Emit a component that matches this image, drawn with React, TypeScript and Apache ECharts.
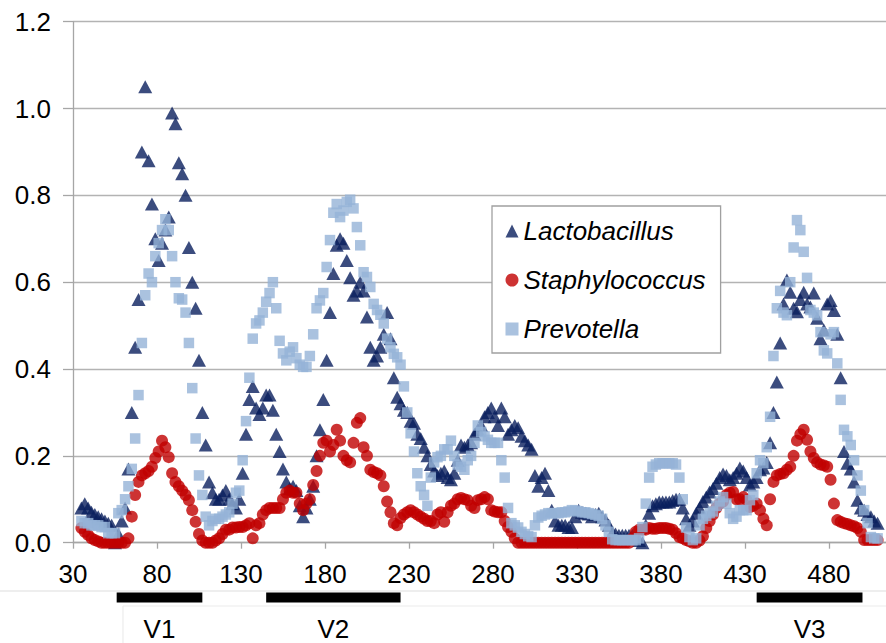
import React, { useEffect, useRef } from "react";
import * as echarts from "echarts";

// Sampling positions: every second position from 35 to 509
const firstPosition = 35;
const positionStep = 2;

const lactobacillus = [
  0.08, 0.09, 0.08, 0.07, 0.065, 0.06, 0.055, 0.05, 0.045, 0.04,
  0.0, 0.02, 0.05, 0.08, 0.17, 0.3, 0.45, 0.56, 0.9, 1.05,
  0.88, 0.78, 0.7, 0.65, 0.69, 0.72, 0.75, 0.99, 0.965, 0.875,
  0.85, 0.8, 0.68, 0.6, 0.54, 0.42, 0.3, 0.225, 0.14, 0.115,
  0.1,
  0.1, 0.11, 0.12, 0.1, 0.09, 0.08, 0.1, 0.16, 0.25, 0.33,
  0.36, 0.31, 0.295, 0.31, 0.34, 0.34, 0.305, 0.25, 0.21, 0.17,
  0.14, 0.125, 0.13, 0.12, 0.085, 0.06, 0.08, 0.1, 0.13, 0.2,
  0.26, 0.33, 0.42, 0.53, 0.62, 0.685, 0.7, 0.69, 0.65, 0.61,
  0.57, 0.58, 0.6, 0.58, 0.52, 0.45, 0.42, 0.43, 0.45, 0.48,
  0.53, 0.47, 0.38, 0.335, 0.32, 0.305, 0.3, 0.28,
  0.275, 0.25, 0.24, 0.22, 0.2, 0.18, 0.165, 0.155, 0.16, 0.165,
  0.15, 0.145, 0.16, 0.19, 0.225, 0.22, 0.225, 0.23, 0.25, 0.26,
  0.27, 0.29, 0.3, 0.31, 0.29, 0.27, 0.31, 0.29, 0.25, 0.26,
  0.27, 0.265, 0.245, 0.235, 0.225, 0.215, 0.155, 0.13, 0.15, 0.16,
  0.12, 0.075, 0.05, 0.04, 0.04, 0.04, 0.035, 0.035, 0.06, 0.075,
  0.07, 0.068, 0.066, 0.06, 0.065, 0.068, 0.06, 0.052, 0.04, 0.022,
  0.02, 0.017, 0.017, 0.017, 0.017, 0.017, 0.01, 0.005, 0.0, 0.04,
  0.068, 0.085, 0.09, 0.094, 0.094, 0.094, 0.094, 0.097, 0.1, 0.1,
  0.08, 0.055, 0.04, 0.05, 0.068, 0.08, 0.095, 0.105, 0.117, 0.125,
  0.137, 0.15, 0.158, 0.155, 0.145, 0.15, 0.16, 0.172, 0.165, 0.15,
  0.133, 0.14, 0.15, 0.168, 0.172, 0.185, 0.23, 0.3, 0.37, 0.46,
  0.55, 0.605, 0.577, 0.54, 0.532, 0.56, 0.577, 0.55, 0.543, 0.575,
  0.517, 0.47, 0.49, 0.55, 0.558, 0.535, 0.48, 0.38, 0.21, 0.183,
  0.17, 0.14, 0.098, 0.08, 0.075, 0.065, 0.06, 0.05, 0.045,
];

const staphylococcus = [
  0.034, 0.025, 0.018, 0.01, 0.006, 0.003, 0, 0, 0, 0,
  0, 0, 0, 0, 0.01, 0.06, 0.11, 0.14, 0.155, 0.16,
  0.165, 0.175, 0.195, 0.21, 0.235, 0.22, 0.197, 0.16, 0.14, 0.13,
  0.12, 0.11, 0.098, 0.075, 0.048, 0.02, 0.005, 0, 0, 0,
  0.005,
  0.01, 0.02, 0.03, 0.03, 0.035, 0.035, 0.036, 0.036, 0.04, 0.045,
  0.01, 0.04, 0.045, 0.065, 0.075, 0.08, 0.08, 0.08, 0.08, 0.1,
  0.115, 0.12, 0.115, 0.115, 0.09, 0.075, 0.09, 0.1, 0.133, 0.165,
  0.2, 0.23, 0.235, 0.21, 0.225, 0.26, 0.235, 0.2, 0.19, 0.185,
  0.23, 0.276, 0.287, 0.22, 0.2, 0.168, 0.163, 0.16, 0.155, 0.13,
  0.095, 0.07, 0.045, 0.04, 0.057, 0.065, 0.07, 0.075,
  0.07, 0.065, 0.06, 0.055, 0.05, 0.05, 0.045, 0.065, 0.07, 0.048,
  0.07, 0.085, 0.09, 0.1, 0.103, 0.1, 0.098, 0.085, 0.08, 0.098,
  0.1, 0.105, 0.1, 0.075, 0.072, 0.07, 0.07, 0.05, 0.036, 0.025,
  0.01, 0, 0, 0, 0, 0, 0, 0, 0, 0,
  0, 0, 0, 0, 0, 0, 0, 0, 0, 0,
  0, 0, 0, 0, 0, 0, 0, 0, 0, 0,
  0, 0, 0, 0, 0, 0.01, 0.025, 0.03, 0.03, 0.03,
  0.034, 0.032, 0.032, 0.034, 0.034, 0.034, 0.032, 0.03, 0.022, 0.013,
  0.01, 0.006, 0.003, 0, 0, 0.005, 0.015, 0.034, 0.05, 0.065,
  0.08, 0.09, 0.095, 0.11, 0.115, 0.117, 0.1, 0.1, 0.105, 0.098,
  0.082, 0.085, 0.09, 0.075, 0.055, 0.04, 0.1, 0.14, 0.155, 0.158,
  0.16, 0.168, 0.175, 0.2, 0.235, 0.25, 0.26, 0.237, 0.21, 0.195,
  0.185, 0.18, 0.178, 0.175, 0.145, 0.09, 0.052, 0.048, 0.045, 0.043,
  0.04, 0.038, 0.034, 0.025, 0.006, 0.006, 0.006, 0.006, 0.006,
];

const prevotella = [
  0.05, 0.045, 0.045, 0.04, 0.04, 0.04, 0.036, 0.036, 0.022, 0.022,
  0.022, 0.068, 0.075, 0.1, 0.13, 0.17, 0.24, 0.34, 0.46, 0.57,
  0.62, 0.6, 0.66, 0.69, 0.72, 0.745, 0.72, 0.66, 0.6, 0.563,
  0.56, 0.53, 0.46, 0.356, 0.24, 0.155, 0.11, 0.06, 0.04, 0.05,
  0.055,
  0.055, 0.06, 0.065, 0.07, 0.09, 0.115, 0.12, 0.19, 0.28, 0.38,
  0.47, 0.505, 0.512, 0.53, 0.555, 0.575, 0.6, 0.54, 0.465, 0.436,
  0.42, 0.44, 0.45, 0.425, 0.41, 0.405, 0.405, 0.43, 0.48, 0.54,
  0.558, 0.575, 0.635, 0.697, 0.76, 0.78, 0.75, 0.765, 0.785, 0.79,
  0.77, 0.727, 0.685, 0.623, 0.612, 0.589, 0.55, 0.536, 0.525, 0.505,
  0.47, 0.45, 0.435, 0.427, 0.41, 0.36, 0.3, 0.252,
  0.21, 0.16, 0.13, 0.11, 0.085, 0.15, 0.185, 0.197, 0.2, 0.215,
  0.215, 0.235, 0.2, 0.18, 0.175, 0.168, 0.19, 0.2, 0.23, 0.27,
  0.255, 0.245, 0.237, 0.23, 0.23, 0.23, 0.19, 0.15, 0.08, 0.045,
  0.04, 0.035, 0.025, 0.02, 0.015, 0.013, 0.04, 0.058, 0.062, 0.065,
  0.068, 0.068, 0.068, 0.068, 0.07, 0.07, 0.072, 0.075, 0.074, 0.072,
  0.07, 0.07, 0.068, 0.066, 0.064, 0.062, 0.055, 0.04, 0.025, 0.008,
  0.006, 0.006, 0.006, 0.006, 0.006, 0.006, 0.006, 0.01, 0.036, 0.09,
  0.15, 0.175, 0.18, 0.183, 0.183, 0.183, 0.183, 0.183, 0.18, 0.15,
  0.1, 0.035, 0.013, 0.006, 0.01, 0.04, 0.055, 0.062, 0.068, 0.072,
  0.085, 0.095, 0.105, 0.09, 0.068, 0.055, 0.06, 0.075, 0.075, 0.075,
  0.098, 0.11, 0.16, 0.19, 0.183, 0.22, 0.29, 0.43, 0.54, 0.58,
  0.53, 0.524, 0.6, 0.68, 0.743, 0.72, 0.67, 0.61, 0.536, 0.53,
  0.524, 0.485, 0.443, 0.436, 0.48, 0.485, 0.413, 0.329, 0.26, 0.245,
  0.225, 0.19, 0.155, 0.12, 0.075, 0.045, 0.013, 0.01, 0.01,
];

const seriesNames = ["Lactobacillus", "Staphylococcus", "Prevotella"];
const xTickValues = [30, 80, 130, 180, 230, 280, 330, 380, 430, 480];
const xMin = 30;
const xMax = 514;
const yMin = 0;
const yMax = 1.2;
const yStep = 0.2;

const regionNames = ["V1", "V2", "V3"];
const regionStarts = [56, 145, 437];
const regionEnds = [107, 225, 500];

const FONT = "'Liberation Sans', Arial, Helvetica, sans-serif";

function toPairs(values: number[]) {
  return values.map((v, i) => [firstPosition + positionStep * i, v]);
}

export default function App() {
  const ref = useRef<HTMLDivElement>(null);

  useEffect(() => {
    if (!ref.current) return;
    const chart = echarts.init(ref.current, undefined, { renderer: "svg" });
    const option: any = {
      animation: false,
      backgroundColor: "#ffffff",
      grid: { left: 73, right: 0, top: 21.7, bottom: 100.3, containLabel: false },
      xAxis: {
        type: "value",
        min: xMin,
        max: xMax,
        axisLine: { show: true, onZero: false, lineStyle: { color: "#a6a6a6", width: 1.3 } },
        axisTick: {
          show: true,
          customValues: xTickValues,
          length: 6,
          lineStyle: { color: "#a6a6a6", width: 1.3 },
        },
        axisLabel: {
          customValues: xTickValues,
          formatter: (v: number) => String(v),
          fontSize: 26,
          fontFamily: FONT,
          color: "#000",
          margin: 18,
        },
        splitLine: { show: false },
      },
      yAxis: {
        type: "value",
        min: yMin,
        max: yMax,
        interval: yStep,
        axisLine: { show: true, lineStyle: { color: "#a6a6a6", width: 1.3 } },
        axisTick: { show: true, length: 10, lineStyle: { color: "#a6a6a6", width: 1.3 } },
        axisLabel: {
          formatter: (v: number) => v.toFixed(1),
          fontSize: 26,
          fontFamily: FONT,
          color: "#000",
          margin: 22,
        },
        splitLine: { show: true, lineStyle: { color: "#b3b3b3", width: 1.3 } },
      },
      legend: {
        orient: "vertical",
        left: 492,
        top: 206,
        padding: [12, 15, 11, 13.5],
        itemGap: 23,
        itemWidth: 13,
        itemHeight: 13,
        borderColor: "#a0a0a0",
        borderWidth: 1.3,
        backgroundColor: "#ffffff",
        selectedMode: false,
        textStyle: { fontSize: 26, fontStyle: "italic", fontFamily: FONT, color: "#000" },
        data: [
          { name: seriesNames[0], icon: "triangle" },
          { name: seriesNames[1], icon: "circle" },
          { name: seriesNames[2], icon: "rect" },
        ],
      },
      series: [
        {
          name: seriesNames[0],
          type: "scatter",
          symbol: "triangle",
          symbolSize: [14, 13],
          itemStyle: { color: "#0a1f5e" },
          data: toPairs(lactobacillus),
          z: 2,
        },
        {
          name: seriesNames[1],
          type: "scatter",
          symbol: "circle",
          symbolSize: 12,
          itemStyle: { color: "#c00000" },
          data: toPairs(staphylococcus),
          z: 3,
        },
        {
          name: seriesNames[2],
          type: "scatter",
          symbol: "rect",
          symbolSize: 10.5,
          itemStyle: { color: "#95b3d7" },
          data: toPairs(prevotella),
          z: 4,
        },
      ],
    };
    chart.setOption(option);

    const graphics: any[] = [
      {
        type: "line",
        shape: { x1: 0, y1: 591, x2: 886, y2: 591 },
        style: { stroke: "#dedede", lineWidth: 1.2 },
        silent: true,
      },
      {
        type: "line",
        shape: { x1: 123, y1: 606, x2: 886, y2: 606 },
        style: { stroke: "#ececec", lineWidth: 1.2 },
        silent: true,
      },
      {
        type: "line",
        shape: { x1: 123, y1: 606, x2: 123, y2: 643 },
        style: { stroke: "#ececec", lineWidth: 1.2 },
        silent: true,
      },
    ];
    regionNames.forEach((name, i) => {
      const x1 = chart.convertToPixel({ xAxisIndex: 0 }, regionStarts[i]) as number;
      const x2 = chart.convertToPixel({ xAxisIndex: 0 }, regionEnds[i]) as number;
      graphics.push({
        type: "rect",
        shape: { x: x1, y: 592.5, width: x2 - x1, height: 10 },
        style: { fill: "#000" },
        silent: true,
      });
      graphics.push({
        type: "text",
        x: (x1 + x2) / 2,
        y: 628.5,
        style: {
          text: name,
          fontSize: 26,
          lineHeight: 26,
          fontFamily: FONT,
          fill: "#000",
          align: "center",
          verticalAlign: "middle",
        },
        silent: true,
      });
    });
    chart.setOption({ graphic: graphics });

    return () => chart.dispose();
  }, []);

  return (
    <div
      ref={ref}
      style={{ position: "absolute", left: 0, top: 0, width: 886, height: 643, background: "#fff" }}
    />
  );
}
